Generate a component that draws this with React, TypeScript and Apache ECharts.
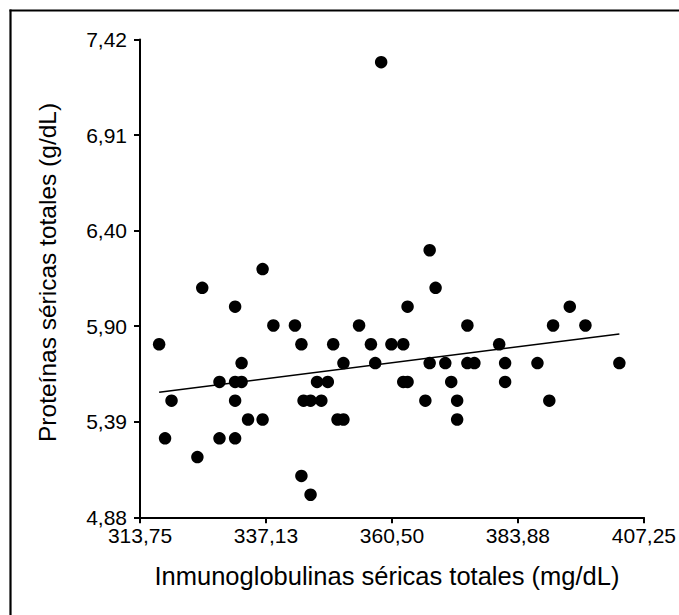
import React, { useEffect, useRef } from "react";
import * as echarts from "echarts";

// Inmunoglobulinas séricas totales (mg/dL)
const xValues = [
  358.5, 367.5, 336.5, 325.3, 368.6, 331.4, 363.4, 393.5, 338.5, 342.5,
  354.4, 374.5, 390.4, 396.4, 317.3, 343.7, 349.6, 356.6, 360.4, 362.6,
  380.4, 332.6, 351.5, 357.4, 367.5, 370.4, 374.5, 375.8, 381.5, 387.5,
  402.7, 328.5, 331.4, 332.6, 346.6, 348.6, 362.6, 363.4, 371.5, 381.5,
  319.6, 331.4, 344.1, 345.4, 347.4, 366.7, 372.6, 389.7, 333.8, 336.5,
  350.4, 351.5, 372.6, 318.4, 328.5, 331.4, 324.4, 343.7, 345.4,
];
// Proteínas séricas totales (g/dL)
const yValues = [
  7.3, 6.3, 6.2, 6.1, 6.1, 6.0, 6.0, 6.0, 5.9, 5.9,
  5.9, 5.9, 5.9, 5.9, 5.8, 5.8, 5.8, 5.8, 5.8, 5.8,
  5.8, 5.7, 5.7, 5.7, 5.7, 5.7, 5.7, 5.7, 5.7, 5.7,
  5.7, 5.6, 5.6, 5.6, 5.6, 5.6, 5.6, 5.6, 5.6, 5.6,
  5.5, 5.5, 5.5, 5.5, 5.5, 5.5, 5.5, 5.5, 5.4, 5.4,
  5.4, 5.4, 5.4, 5.3, 5.3, 5.3, 5.2, 5.1, 5.0,
];

// Trend line end points
const trendX = [317.3, 402.7];
const trendY = [5.545, 5.855];

const xTicks = [313.75, 337.125, 360.5, 383.875, 407.25];
const xTickLabels = ["313,75", "337,13", "360,50", "383,88", "407,25"];
const yTicks = [4.88, 5.388, 5.896, 6.404, 6.912, 7.42];
const yTickLabels = ["4,88", "5,39", "5,90", "6,40", "6,91", "7,42"];

const FONT = "'Liberation Sans', Arial, Helvetica, sans-serif";

function labelFor(v: number, ticks: number[], labels: string[]): string {
  let best = 0;
  for (let i = 1; i < ticks.length; i++) {
    if (Math.abs(ticks[i] - v) < Math.abs(ticks[best] - v)) best = i;
  }
  return labels[best];
}

export default function App() {
  const ref = useRef<HTMLDivElement>(null);

  useEffect(() => {
    if (!ref.current) return;
    const chart = echarts.init(ref.current, null, { renderer: "svg" });
    const points = xValues.map((x, i) => [x, yValues[i]]);
    const trend = trendX.map((x, i) => [x, trendY[i]]);

    chart.setOption({
      animation: false,
      backgroundColor: "#ffffff",
      grid: { left: 140, right: 35, top: 39.6, bottom: 97.7, containLabel: false },
      xAxis: {
        type: "value",
        min: 313.75,
        max: 407.25,
        name: "Inmunoglobulinas séricas totales (mg/dL)",
        nameLocation: "middle",
        nameGap: 46,
        nameTextStyle: { fontSize: 25.5, color: "#000", fontFamily: FONT, padding: [0, 10, 0, 0] },
        axisLine: { show: true, onZero: false, lineStyle: { color: "#000", width: 2 } },
        axisTick: {
          show: true,
          length: 6,
          lineStyle: { color: "#000", width: 2 },
          customValues: xTicks,
        },
        axisLabel: {
          customValues: xTicks,
          formatter: (v: number) => labelFor(v, xTicks, xTickLabels),
          fontSize: 21,
          color: "#000",
          fontFamily: FONT,
          margin: 8,
          showMinLabel: true,
          showMaxLabel: true,
        },
        splitLine: { show: false },
      },
      yAxis: {
        type: "value",
        min: 4.88,
        max: 7.42,
        name: "Proteínas séricas totales (g/dL)",
        nameLocation: "middle",
        nameGap: 80,
        nameTextStyle: { fontSize: 24.5, color: "#000", fontFamily: FONT, padding: [0, 0, 0, 12] },
        axisLine: { show: true, onZero: false, lineStyle: { color: "#000", width: 2 } },
        axisTick: {
          show: true,
          length: 6,
          lineStyle: { color: "#000", width: 2 },
          customValues: yTicks,
        },
        axisLabel: {
          customValues: yTicks,
          formatter: (v: number) => labelFor(v, yTicks, yTickLabels),
          fontSize: 21,
          color: "#000",
          fontFamily: FONT,
          margin: 13,
          showMinLabel: true,
          showMaxLabel: true,
        },
        splitLine: { show: false },
      },
      graphic: [
        {
          type: "line",
          shape: { x1: 9.5, y1: 10.5, x2: 679, y2: 10.5 },
          style: { stroke: "#000", lineWidth: 2.2 },
        },
        {
          type: "line",
          shape: { x1: 10.5, y1: 9.5, x2: 10.5, y2: 615 },
          style: { stroke: "#000", lineWidth: 2.2 },
        },
      ],
      series: [
        {
          type: "line",
          data: trend,
          symbol: "none",
          lineStyle: { color: "#000", width: 1.6 },
          z: 1,
        },
        {
          type: "scatter",
          data: points,
          symbol: "circle",
          symbolSize: 12.5,
          itemStyle: { color: "#000", opacity: 1 },
          z: 2,
        },
      ],
    });

    return () => chart.dispose();
  }, []);

  return (
    <div
      style={{ position: "fixed", left: 0, top: 0, width: 679, height: 615, background: "#fff" }}
    >
      <div ref={ref} style={{ width: 679, height: 615 }} />
    </div>
  );
}
